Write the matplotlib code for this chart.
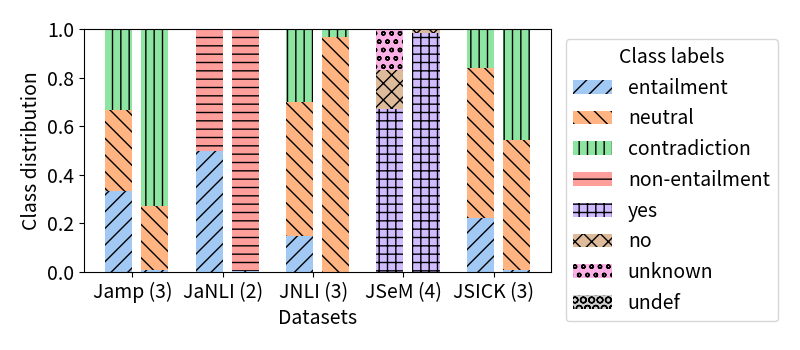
import numpy as np
import matplotlib
matplotlib.use("Agg")
import matplotlib.pyplot as plt

plt.rcParams['font.family'] = ['Noto Sans CJK JP', 'DejaVu Sans']
plt.rcParams['font.size'] = 14

datasets = ["Jamp (3)", "JaNLI (2)", "JNLI (3)", "JSeM (4)", "JSICK (3)"]
labels = ["entailment", "neutral", "contradiction", "non-entailment",
          "yes", "no", "unknown", "undef"]

# 左の棒
left_vals = {
    "entailment":     [0.333, 0.500, 0.149, 0.000, 0.223],
    "neutral":        [0.334, 0.000, 0.552, 0.000, 0.619],
    "contradiction":  [0.333, 0.000, 0.299, 0.000, 0.158],
    "non-entailment": [0.000, 0.500, 0.000, 0.000, 0.000],
    "yes":            [0.000, 0.000, 0.000, 0.670, 0.000],
    "no":             [0.000, 0.000, 0.000, 0.162, 0.000],
    "unknown":        [0.000, 0.000, 0.000, 0.168, 0.000],
    "undef":          [0.000, 0.000, 0.000, 0.000, 0.000],
}
# 右の棒
right_vals = {
    "entailment":     [0.008, 0.005, 0.000, 0.000, 0.010],
    "neutral":        [0.264, 0.000, 0.970, 0.000, 0.533],
    "contradiction":  [0.728, 0.000, 0.030, 0.000, 0.457],
    "non-entailment": [0.000, 0.995, 0.000, 0.000, 0.000],
    "yes":            [0.000, 0.000, 0.000, 0.985, 0.000],
    "no":             [0.000, 0.000, 0.000, 0.015, 0.000],
    "unknown":        [0.000, 0.000, 0.000, 0.000, 0.000],
    "undef":          [0.000, 0.000, 0.000, 0.000, 0.000],
}

colors = ["#a1c9f4", "#ffb482", "#8de5a1", "#ff9f9b",
          "#d0bbff", "#debb9b", "#fab0e4", "#cfcfcf"]
hatches = ["//", "\\\\", "||", "--", "++", "xx", "oo", "OO"]

fig, ax = plt.subplots(figsize=(8, 3.5), dpi=100)
fig.subplots_adjust(left=0.105, right=0.689, top=0.916, bottom=0.223)

x = np.arange(len(datasets))
w = 0.3

for vals, off, lab in [(left_vals, -0.15, True), (right_vals, 0.25, False)]:
    bottom = np.zeros(len(datasets))
    for name, c, h in zip(labels, colors, hatches):
        v = np.array(vals[name])
        ax.bar(x + off, v, w, bottom=bottom, color=c, hatch=h,
               edgecolor="black", linewidth=0,
               label=name if lab else None)
        bottom += v

ax.set_ylim(0, 1.0)
ax.set_xticks(x)
ax.set_xticklabels(datasets)
ax.set_xlabel("Datasets")
ax.set_ylabel("Class distribution")

ax.legend(title="Class labels", loc="upper left", bbox_to_anchor=(1.01, 1.0))

plt.savefig("out.png", dpi=100)
